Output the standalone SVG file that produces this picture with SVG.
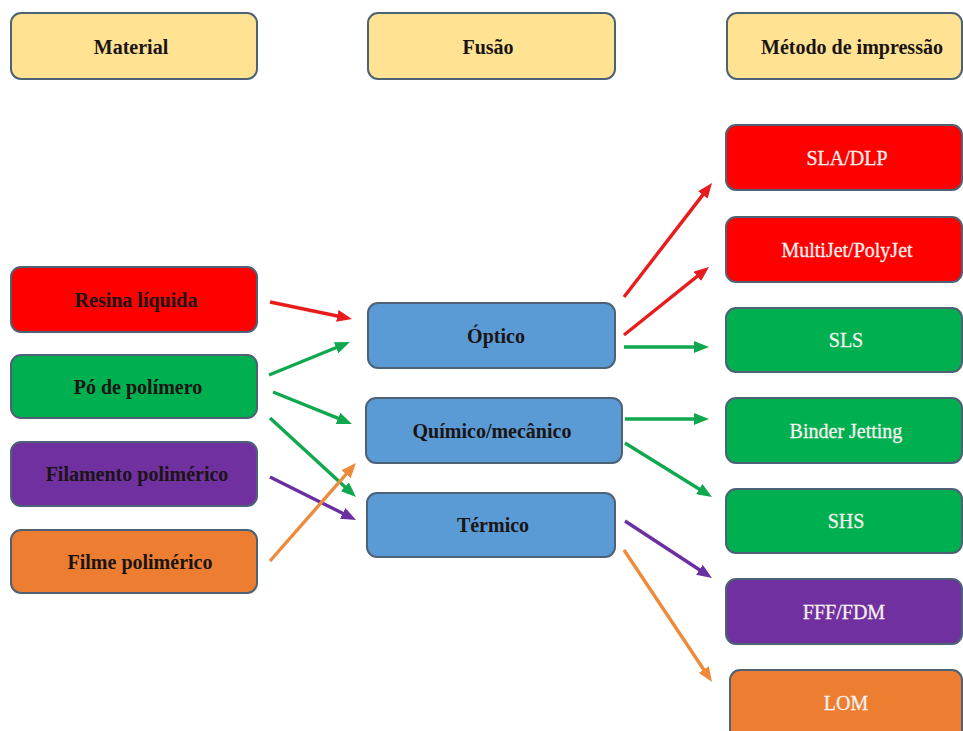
<svg xmlns="http://www.w3.org/2000/svg" width="963" height="731" viewBox="0 0 963 731">
  <style>
    .box { stroke: #4d6275; stroke-width: 2; }
    .hdr { fill: #FFE393; }
    .red { fill: #FF0000; }
    .green { fill: #00B050; }
    .purple { fill: #7030A0; }
    .orange { fill: #ED7D31; }
    .blue { fill: #5B9BD5; }
    .lbl { font-family: "Liberation Serif", "Times New Roman", serif; font-size: 20px; font-weight: bold; text-anchor: middle; fill: #1a1414; }
    .lbl-light { font-family: "Liberation Serif", "Times New Roman", serif; font-size: 20px; text-anchor: middle; fill: #f6f0ee; stroke: #f6f0ee; stroke-width: 0.3; }
    .c-red { stroke: #E81C1C; }
    .c-green { stroke: #10A84E; }
    .c-purple { stroke: #6A2FA0; }
    .c-orange { stroke: #EE8A3A; }
    #connectors line { stroke-width: 3.4; fill: none; }
  </style>
  <defs>
    <marker id="ah-red" markerUnits="userSpaceOnUse" markerWidth="15" markerHeight="12" refX="5" refY="6" orient="auto">
      <path d="M0,0 L15,6 L0,12 z" fill="#E81C1C"/>
    </marker>
    <marker id="ah-green" markerUnits="userSpaceOnUse" markerWidth="15" markerHeight="12" refX="5" refY="6" orient="auto">
      <path d="M0,0 L15,6 L0,12 z" fill="#10A84E"/>
    </marker>
    <marker id="ah-purple" markerUnits="userSpaceOnUse" markerWidth="15" markerHeight="12" refX="5" refY="6" orient="auto">
      <path d="M0,0 L15,6 L0,12 z" fill="#6A2FA0"/>
    </marker>
    <marker id="ah-orange" markerUnits="userSpaceOnUse" markerWidth="15" markerHeight="12" refX="5" refY="6" orient="auto">
      <path d="M0,0 L15,6 L0,12 z" fill="#EE8A3A"/>
    </marker>
  </defs>

  <rect width="963" height="731" fill="#ffffff"/>

  <!-- column headers -->
  <g id="hdr-material">
    <rect class="box hdr" x="11" y="13" width="246" height="66" rx="10"/>
    <text class="lbl" x="131" y="54">Material</text>
  </g>
  <g id="hdr-fusao">
    <rect class="box hdr" x="368" y="13" width="247" height="66" rx="10"/>
    <text class="lbl" x="488" y="54">Fusão</text>
  </g>
  <g id="hdr-metodo">
    <rect class="box hdr" x="727" y="13" width="235" height="66" rx="10"/>
    <text class="lbl" x="852" y="54">Método de impressão</text>
  </g>

  <!-- materials -->
  <g id="resina">
    <rect class="box red" x="11" y="267" width="246" height="65" rx="10"/>
    <text class="lbl" x="136" y="307">Resina líquida</text>
  </g>
  <g id="po">
    <rect class="box green" x="11" y="355" width="246" height="63" rx="10"/>
    <text class="lbl" x="138" y="394">Pó de polímero</text>
  </g>
  <g id="filamento">
    <rect class="box purple" x="11" y="442" width="246" height="64" rx="10"/>
    <text class="lbl" x="137" y="481">Filamento polimérico</text>
  </g>
  <g id="filme">
    <rect class="box orange" x="11" y="530" width="246" height="63" rx="10"/>
    <text class="lbl" x="140" y="569">Filme polimérico</text>
  </g>

  <!-- fusion mechanisms -->
  <g id="optico">
    <rect class="box blue" x="368" y="303" width="247" height="65" rx="10"/>
    <text class="lbl" x="496" y="343">Óptico</text>
  </g>
  <g id="quimico">
    <rect class="box blue" x="366" y="398" width="256" height="65" rx="10"/>
    <text class="lbl" x="492" y="438">Químico/mecânico</text>
  </g>
  <g id="termico">
    <rect class="box blue" x="367" y="493" width="248" height="64" rx="10"/>
    <text class="lbl" x="493" y="532">Térmico</text>
  </g>

  <!-- printing methods -->
  <g id="sla">
    <rect class="box red" x="726" y="125" width="236" height="65" rx="10"/>
    <text class="lbl-light" x="847" y="165">SLA/DLP</text>
  </g>
  <g id="multijet">
    <rect class="box red" x="726" y="217" width="236" height="65" rx="10"/>
    <text class="lbl-light" x="847" y="257">MultiJet/PolyJet</text>
  </g>
  <g id="sls">
    <rect class="box green" x="726" y="308" width="236" height="64" rx="10"/>
    <text class="lbl-light" x="846" y="347">SLS</text>
  </g>
  <g id="binder">
    <rect class="box green" x="726" y="398" width="236" height="65" rx="10"/>
    <text class="lbl-light" x="846" y="438">Binder Jetting</text>
  </g>
  <g id="shs">
    <rect class="box green" x="726" y="489" width="236" height="64" rx="10"/>
    <text class="lbl-light" x="846" y="528">SHS</text>
  </g>
  <g id="fff">
    <rect class="box purple" x="726" y="579" width="236" height="65" rx="10"/>
    <text class="lbl-light" x="844" y="619">FFF/FDM</text>
  </g>
  <g id="lom">
    <rect class="box orange" x="730" y="670" width="232" height="72" rx="10"/>
    <text class="lbl-light" x="846" y="710">LOM</text>
  </g>

  <!-- connectors -->
  <g id="connectors">
    <line class="c-red" x1="270" y1="302" x2="342.2" y2="317.0" marker-end="url(#ah-red)"/>
    <line class="c-green" x1="269" y1="375" x2="340.7" y2="345.8" marker-end="url(#ah-green)"/>
    <line class="c-green" x1="273" y1="392" x2="342.7" y2="420.2" marker-end="url(#ah-green)"/>
    <line class="c-green" x1="270" y1="418" x2="348.6" y2="490.2" marker-end="url(#ah-green)"/>
    <line class="c-purple" x1="270" y1="477" x2="347.1" y2="515.5" marker-end="url(#ah-purple)"/>
    <line class="c-orange" x1="270" y1="561" x2="349.4" y2="470.5" marker-end="url(#ah-orange)"/>

    <line class="c-red" x1="624" y1="297" x2="705.9" y2="190.9" marker-end="url(#ah-red)"/>
    <line class="c-red" x1="624" y1="335" x2="701.2" y2="273.2" marker-end="url(#ah-red)"/>
    <line class="c-green" x1="624" y1="347" x2="699" y2="347" marker-end="url(#ah-green)"/>
    <line class="c-green" x1="625" y1="419" x2="699" y2="419" marker-end="url(#ah-green)"/>
    <line class="c-green" x1="625" y1="443" x2="703.5" y2="491.7" marker-end="url(#ah-green)"/>
    <line class="c-purple" x1="625" y1="521" x2="703.6" y2="572.5" marker-end="url(#ah-purple)"/>
    <line class="c-orange" x1="624" y1="550" x2="706.5" y2="673.7" marker-end="url(#ah-orange)"/>
  </g>
</svg>
